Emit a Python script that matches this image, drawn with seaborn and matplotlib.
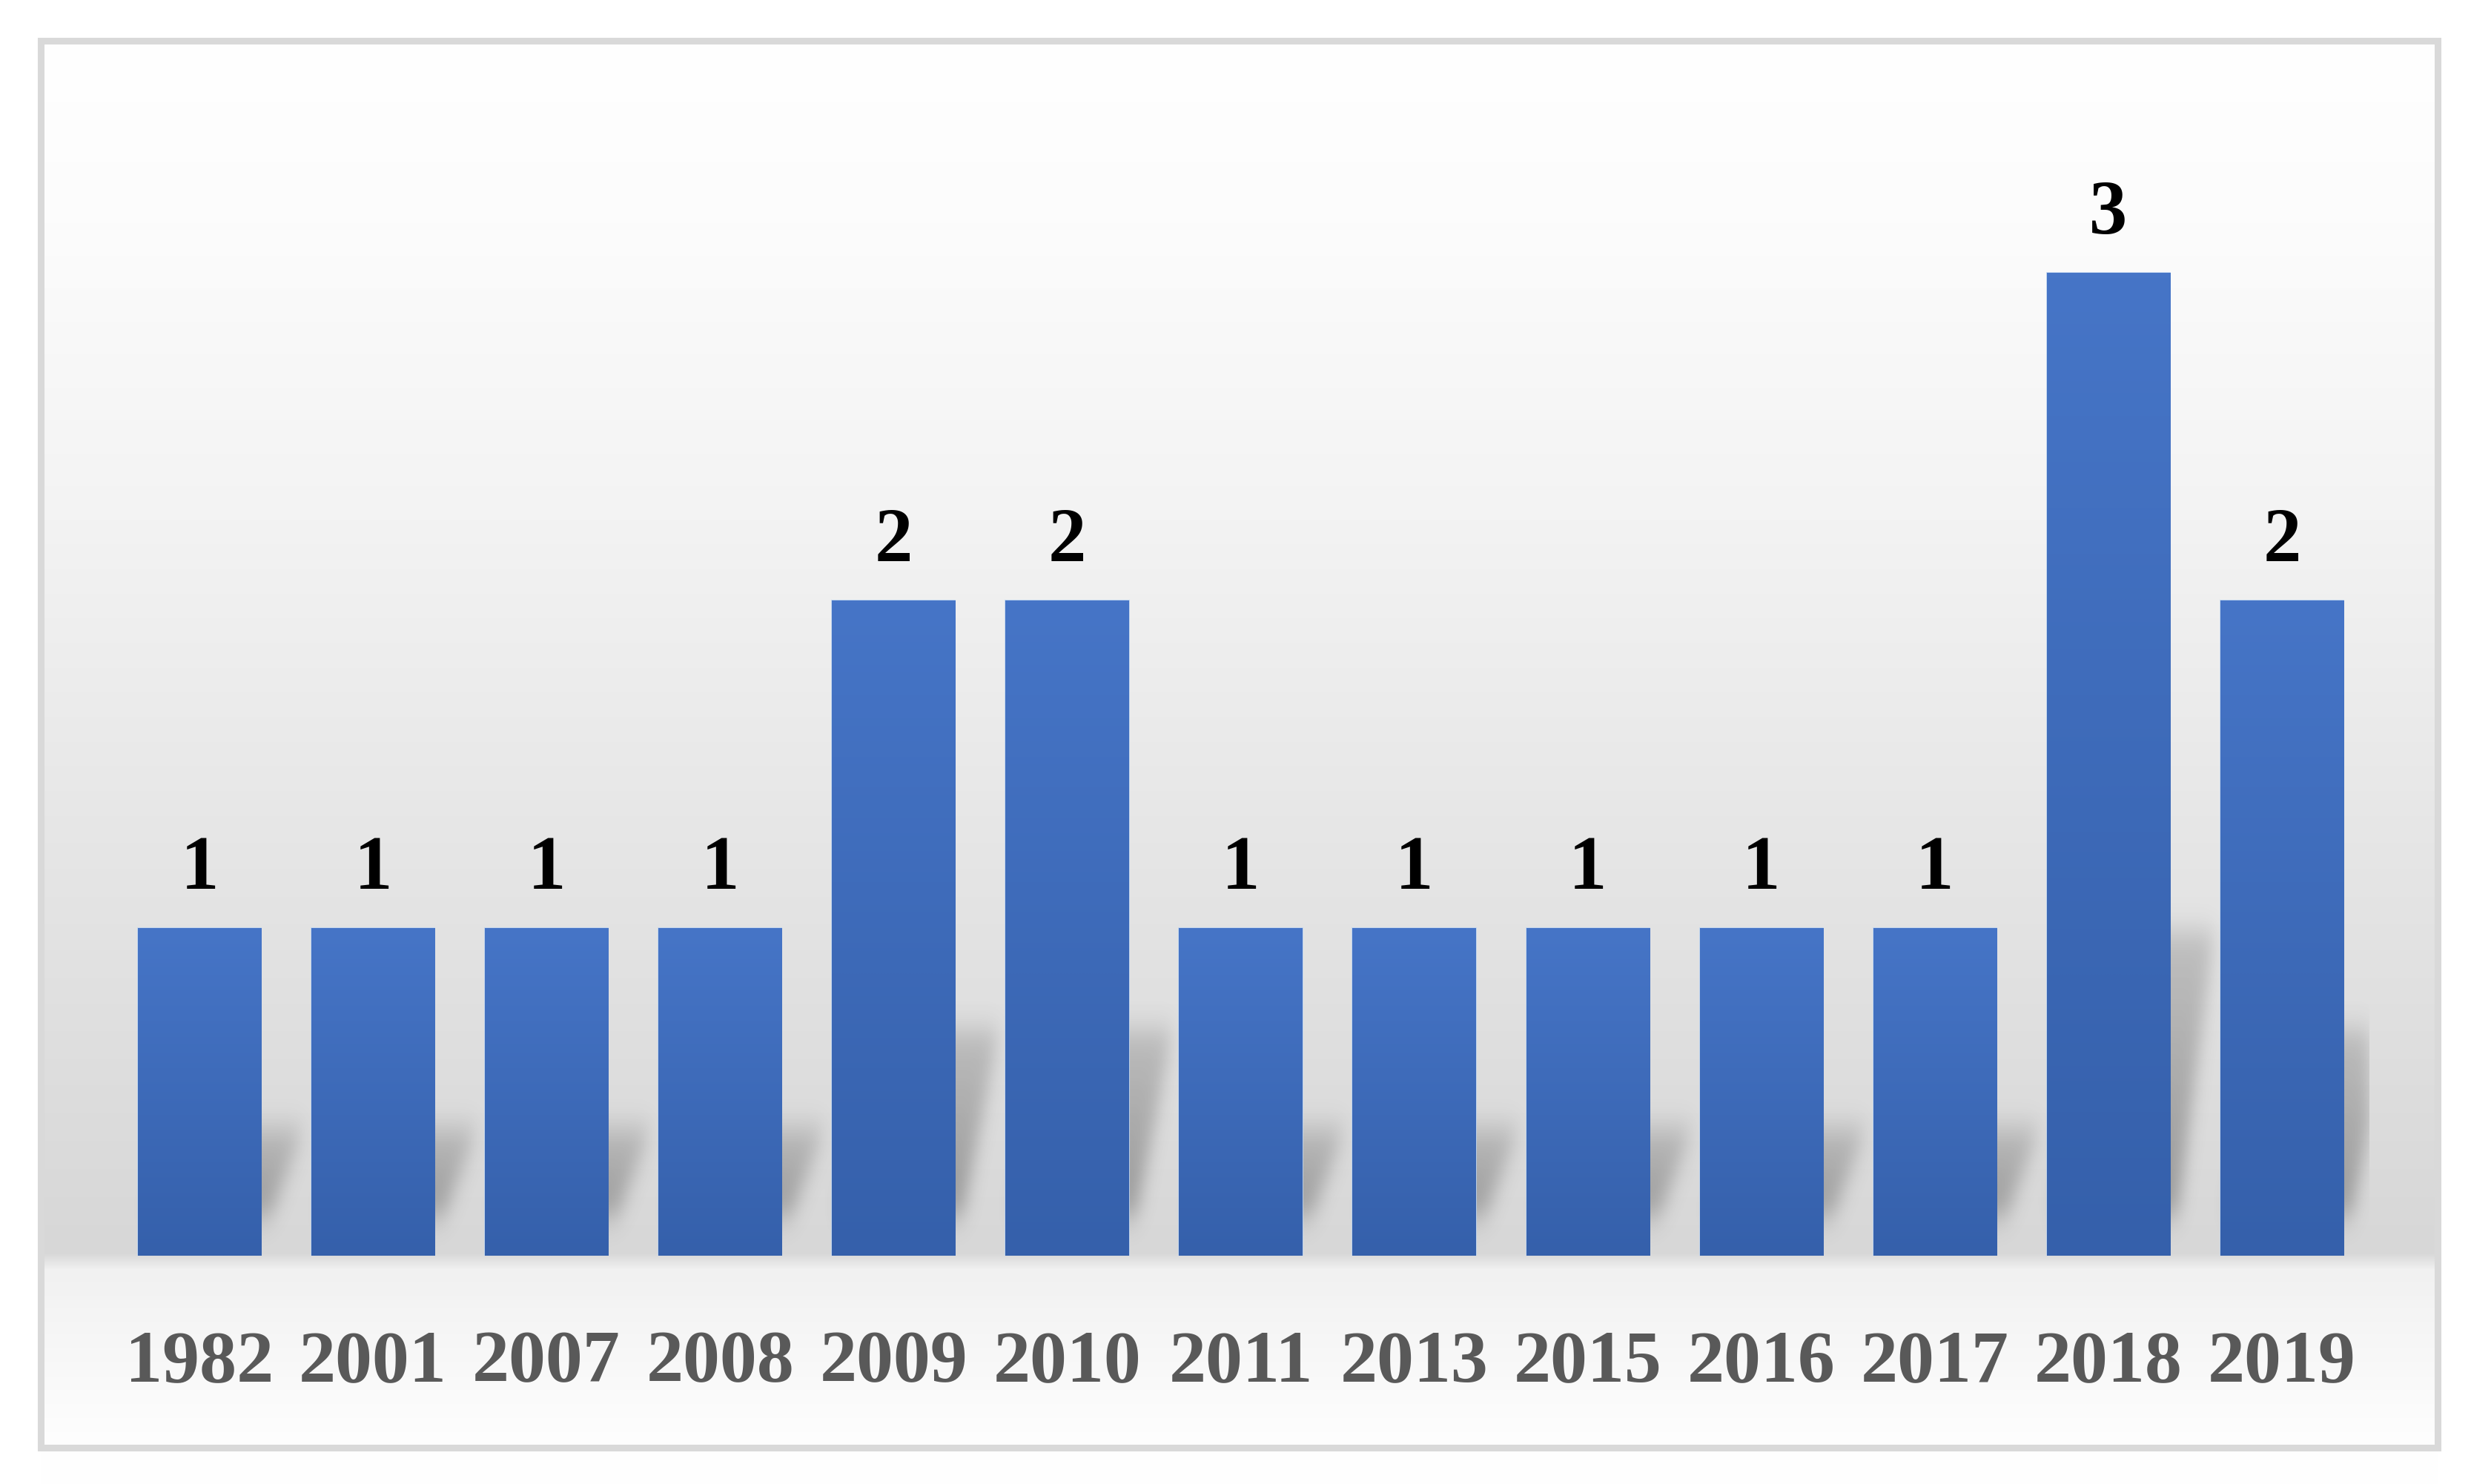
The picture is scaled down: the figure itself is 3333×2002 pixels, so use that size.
import numpy as np
import pandas as pd
import matplotlib
matplotlib.use("Agg")
import matplotlib.pyplot as plt
from matplotlib.colors import LinearSegmentedColormap
from matplotlib.patches import Rectangle
import seaborn as sns

years = ["1982", "2001", "2007", "2008", "2009", "2010", "2011",
         "2013", "2015", "2016", "2017", "2018", "2019"]
counts = [1, 1, 1, 1, 2, 2, 1, 1, 1, 1, 1, 3, 2]

df = pd.DataFrame({"year": years, "count": counts})

sns.set_theme(style="white")
plt.rcParams["font.family"] = ["Liberation Serif", "DejaVu Serif"]

W, H = 3333, 2002
fig = plt.figure(figsize=(W / 100, H / 100), dpi=100)
fig.patch.set_facecolor("white")

# background: framed chart area with a soft vertical gray gradient
bg = fig.add_axes([0, 0, 1, 1], zorder=0)
bg.axis("off")
rows = np.arange(H)
stop_y = [55, 300, 700, 1100, 1500, 1690, 1712, 1800, 1950]
stop_v = [255, 252, 243, 231, 220, 215, 241, 246, 254]
col = np.interp(rows, stop_y, stop_v) / 255.0
grad = np.dstack([np.repeat(col[:, None], 8, axis=1)] * 3)
bg.imshow(grad, extent=[55, 3288, H, 0], aspect="auto", interpolation="nearest")
bg.set_xlim(0, W)
bg.set_ylim(H, 0)
bg.add_patch(Rectangle((55, 55), 3233, 1898, fill=False, ec="#d9d9d9", lw=6.5))

# main bar chart
ax = fig.add_axes([0.0456, 0.1538, 0.913, 0.7728], zorder=1)
ax.patch.set_alpha(0)
sns.barplot(data=df, x="year", y="count", color="#4472c4", saturation=1,
            width=0.71, ax=ax)
bars = list(ax.patches)
n = len(years)


def gauss_blur(a, sx, sy):
    def kern(s):
        r = int(3 * s)
        t = np.arange(-r, r + 1)
        k = np.exp(-0.5 * (t / s) ** 2)
        return k / k.sum()
    kx, ky = kern(sx), kern(sy)
    a = np.apply_along_axis(lambda v: np.convolve(v, kx, mode="same"), 1, a)
    a = np.apply_along_axis(lambda v: np.convolve(v, ky, mode="same"), 0, a)
    return a


# blurred floor shadows cast up and to the right of each bar
step = 0.005
gx = np.arange(-0.5, n - 0.5, step)
gy = np.arange(-0.1, 1.4, step)
X, Y = np.meshgrid(gx, gy)
mask = np.zeros_like(X)
for p in bars:
    x0, w, h = p.get_x(), p.get_width(), p.get_height()
    hs = 0.32 * h
    off = 0.03 + 0.22 * np.clip(Y, 0, None) / hs
    inside = (Y >= 0.03) & (Y <= hs) & (X >= x0 + off) & (X <= x0 + w + off)
    fade = 1 - 0.5 * np.clip(Y, 0, None) / hs
    mask = np.maximum(mask, inside * fade)
mask = gauss_blur(mask, 9, 9)
shadow = np.zeros(mask.shape + (4,))
shadow[..., :3] = 0.25
shadow[..., 3] = np.clip(mask, 0, 1) * 0.42
ax.imshow(shadow, origin="lower", aspect="auto", interpolation="bilinear",
          extent=[gx[0], gx[-1] + step, 0, gy[-1] + step], zorder=0.5)

# vertical gradient inside each bar
bar_cmap = LinearSegmentedColormap.from_list("barfill", ["#3560ab", "#4675c7"])
ramp = np.linspace(0, 1, 256)[:, None]
for p in bars:
    x0, w, h = p.get_x(), p.get_width(), p.get_height()
    p.set_edgecolor("#bcd3f0")
    p.set_linewidth(1.2)
    im = ax.imshow(ramp, cmap=bar_cmap, origin="lower", aspect="auto",
                   extent=[x0, x0 + w, 0, h], zorder=2, interpolation="bilinear")
    im.set_clip_path(p)

ax.bar_label(ax.containers[0], padding=22, fontsize=74, fontweight="bold",
             color="black")

ax.set_xlim(-0.5, n - 0.5)
ax.set_ylim(0, 3.5)
ax.set_xlabel("")
ax.set_ylabel("")
ax.set_yticks([])
for s in ax.spines.values():
    s.set_visible(False)
ax.tick_params(axis="x", length=0, pad=72, labelsize=72, labelcolor="#595959")
for t in ax.get_xticklabels():
    t.set_fontweight("bold")

fig.savefig("out.png", dpi=100)
